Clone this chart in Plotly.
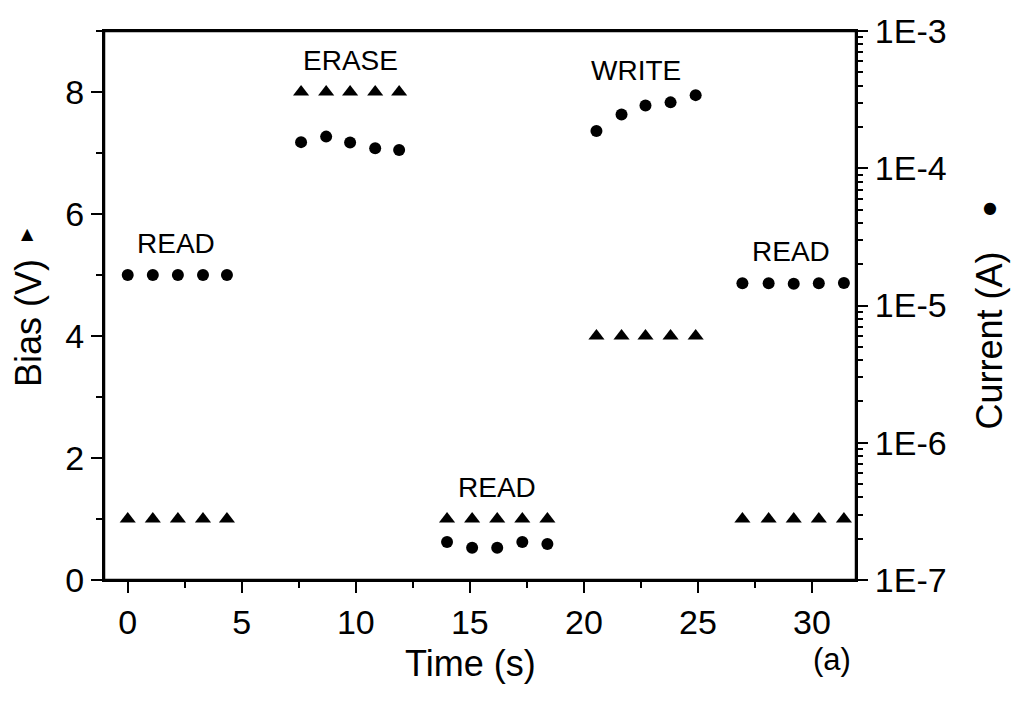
import plotly.graph_objects as go

# ---- data ----
time_s = [0.0, 1.1, 2.2, 3.3, 4.35,
          7.6, 8.7, 9.75, 10.85, 11.9,
          14.0, 15.1, 16.2, 17.3, 18.4,
          20.55, 21.65, 22.7, 23.8, 24.9,
          26.95, 28.1, 29.2, 30.3, 31.4]
bias_v = [1, 1, 1, 1, 1,
          8, 8, 8, 8, 8,
          1, 1, 1, 1, 1,
          4, 4, 4, 4, 4,
          1, 1, 1, 1, 1]
current_a = [1.67e-5, 1.67e-5, 1.67e-5, 1.67e-5, 1.67e-5,
             1.55e-4, 1.70e-4, 1.54e-4, 1.40e-4, 1.36e-4,
             1.89e-7, 1.72e-7, 1.72e-7, 1.89e-7, 1.83e-7,
             1.87e-4, 2.46e-4, 2.87e-4, 3.02e-4, 3.41e-4,
             1.45e-5, 1.45e-5, 1.44e-5, 1.45e-5, 1.46e-5]

phase_labels = ["READ", "ERASE", "READ", "WRITE", "READ"]
phase_label_x = [2.1, 9.75, 16.2, 22.3, 29.1]
phase_label_y = [5.52, 8.52, 1.52, 8.36, 5.38]

cur_tickvals = [1e-7, 1e-6, 1e-5, 1e-4, 1e-3]
cur_ticktext = ["1E-7", "1E-6", "1E-5", "1E-4", "1E-3"]
cur_minor = [m * 10.0 ** e for e in range(-7, -3) for m in range(2, 10)]

FONT = "Arial, Liberation Sans, sans-serif"
XR = [-1.04, 31.93]

fig = go.Figure()
fig.add_trace(go.Scatter(x=time_s, y=bias_v, mode="markers",
                         marker=dict(symbol="triangle-up", size=14, color="black")))
fig.add_trace(go.Scatter(x=time_s, y=current_a, mode="markers",
                         marker=dict(symbol="circle", size=12, color="black"), yaxis="y2"))

def ann(**kw):
    d = dict(showarrow=False, xanchor="center", yanchor="middle")
    d.update(kw)
    return d

annotations = []
for txt, ax, ay in zip(phase_labels, phase_label_x, phase_label_y):
    annotations.append(ann(x=ax, y=ay, xref="x", yref="y", text=txt,
                           font=dict(family=FONT, size=28, color="black")))
annotations += [
    ann(x=-0.101, y=0.468, xref="paper", yref="paper", text="Bias (V)", textangle=-90,
        font=dict(family=FONT, size=36, color="black")),
    ann(x=-0.102, y=0.632, xref="paper", yref="paper", text="▲",
        font=dict(family="DejaVu Sans", size=16, color="black")),
    ann(x=1.178, y=0.436, xref="paper", yref="paper", text="Current (A)", textangle=-90,
        font=dict(family=FONT, size=36, color="black")),
    ann(x=1.178, y=0.678, xref="paper", yref="paper", text="●",
        font=dict(family="DejaVu Sans", size=16, color="black")),
    ann(x=0.487, y=-0.152, xref="paper", yref="paper", text="Time (s)",
        font=dict(family=FONT, size=36, color="black")),
    ann(x=0.968, y=-0.145, xref="paper", yref="paper", text="(a)",
        font=dict(family=FONT, size=31, color="black")),
]

shapes = [dict(type="rect", xref="paper", yref="paper", layer="above",
               x0=0, x1=1, y0=0, y1=1, fillcolor="rgba(0,0,0,0)",
               line=dict(color="#000000", width=2.5))]

tf = dict(tickfont=dict(family=FONT, size=34, color="black"), tickwidth=2, tickcolor="black")

fig.update_layout(
    width=1014, height=708,
    margin=dict(l=104, r=158, t=25, b=128),
    paper_bgcolor="white", plot_bgcolor="white", showlegend=False,
    annotations=annotations, shapes=shapes,
    xaxis=dict(range=XR, showgrid=False, zeroline=False, showline=True, linecolor="black",
               linewidth=2, mirror=True, ticks="outside", ticklen=11, tick0=0, dtick=5,
               anchor="y", minor=dict(ticks="outside", ticklen=6, dtick=2.5), **tf),
    yaxis=dict(range=[0, 9], showgrid=False, zeroline=False, showline=True, linecolor="black",
               linewidth=2, ticks="outside", ticklen=11, tick0=0, dtick=2, anchor="x",
               minor=dict(ticks="outside", ticklen=6, dtick=1), **tf),
    yaxis2=dict(type="log", range=[-7, -3], overlaying="y", side="right", anchor="x",
                showgrid=False, zeroline=False, showline=True, linecolor="black",
                linewidth=2, ticks="outside", ticklen=10, tickvals=cur_tickvals,
                ticktext=cur_ticktext,
                minor=dict(ticks="outside", ticklen=5, tickvals=cur_minor), **tf),
)

fig.write_html("out.html")
